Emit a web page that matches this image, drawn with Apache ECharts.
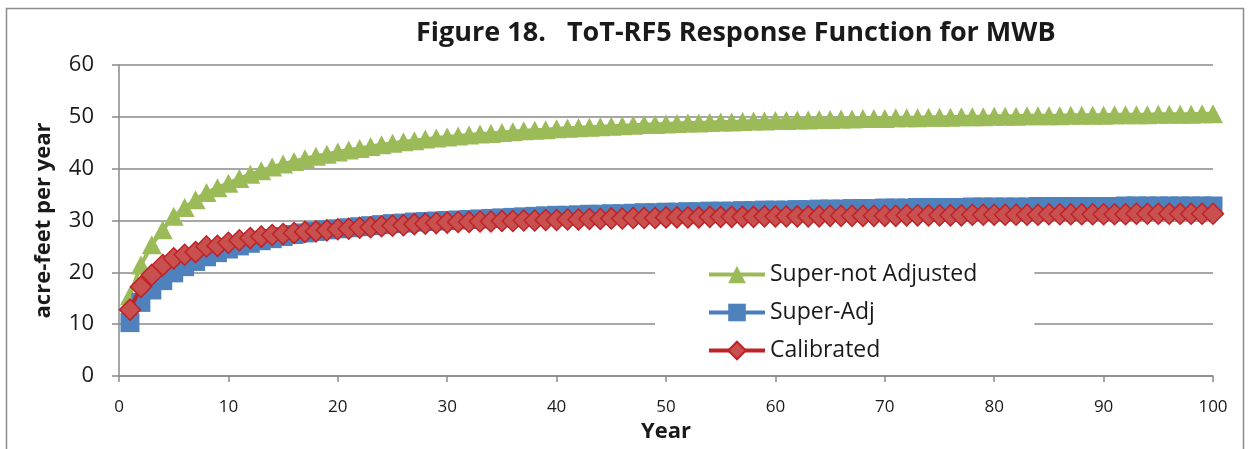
<!DOCTYPE html>
<html>
<head>
<meta charset="utf-8">
<script src="https://cdn.jsdelivr.net/npm/echarts@6/dist/echarts.min.js"></script>
<style>
  html, body { margin: 0; padding: 0; background: #fff; overflow: hidden; }
  #chart { width: 1250px; height: 449px; }
</style>
</head>
<body>
<div id="chart"></div>
<script>
// Response function, acre-feet per year, for years 1..100
const years = Array.from({ length: 100 }, (_, i) => i + 1);

const superNotAdjusted = [
  15.5, 21.4, 25.3, 28.2, 30.8, 32.5, 34.0, 35.4, 36.3, 37.2,
  38.1, 38.9, 39.6, 40.3, 40.9, 41.4, 41.9, 42.4, 42.8, 43.2,
  43.6, 43.9, 44.3, 44.6, 44.9, 45.2, 45.4, 45.7, 45.9, 46.1,
  46.3, 46.5, 46.7, 46.8, 47.0, 47.1, 47.3, 47.4, 47.5, 47.7,
  47.8, 47.9, 48.0, 48.1, 48.2, 48.3, 48.4, 48.5, 48.5, 48.6,
  48.7, 48.8, 48.8, 48.9, 49.0, 49.0, 49.1, 49.2, 49.2, 49.3,
  49.3, 49.4, 49.4, 49.5, 49.5, 49.6, 49.6, 49.7, 49.7, 49.7,
  49.8, 49.8, 49.8, 49.9, 49.9, 49.9, 50.0, 50.0, 50.0, 50.1,
  50.1, 50.1, 50.2, 50.2, 50.2, 50.2, 50.3, 50.3, 50.3, 50.3,
  50.4, 50.4, 50.4, 50.4, 50.5, 50.5, 50.5, 50.5, 50.6, 50.6
];

const superAdj = [
  10.3, 14.2, 16.6, 18.4, 19.9, 21.1, 22.1, 23.0, 23.8, 24.5,
  25.1, 25.6, 26.1, 26.5, 26.9, 27.3, 27.6, 27.9, 28.2, 28.4,
  28.6, 28.8, 29.0, 29.2, 29.4, 29.5, 29.7, 29.8, 29.9, 30.0,
  30.1, 30.2, 30.3, 30.4, 30.5, 30.6, 30.7, 30.8, 30.9, 31.0,
  31.0, 31.1, 31.2, 31.2, 31.3, 31.3, 31.4, 31.5, 31.5, 31.6,
  31.6, 31.7, 31.7, 31.8, 31.8, 31.8, 31.9, 31.9, 32.0, 32.0,
  32.0, 32.1, 32.1, 32.2, 32.2, 32.2, 32.3, 32.3, 32.3, 32.4,
  32.4, 32.4, 32.5, 32.5, 32.5, 32.5, 32.5, 32.6, 32.6, 32.6,
  32.6, 32.6, 32.6, 32.7, 32.7, 32.7, 32.7, 32.7, 32.7, 32.7,
  32.7, 32.8, 32.8, 32.8, 32.8, 32.8, 32.8, 32.8, 32.8, 32.8
];

const calibrated = [
  12.8, 17.2, 19.5, 21.4, 22.7, 23.4, 23.9, 25.0, 25.1, 25.7,
  26.2, 26.6, 26.9, 27.2, 27.4, 27.6, 27.8, 27.9, 28.1, 28.3,
  28.4, 28.6, 28.7, 28.9, 29.0, 29.1, 29.3, 29.4, 29.5, 29.6,
  29.7, 29.7, 29.8, 29.8, 29.9, 29.9, 30.0, 30.0, 30.1, 30.1,
  30.2, 30.2, 30.3, 30.3, 30.4, 30.4, 30.5, 30.5, 30.5, 30.6,
  30.6, 30.6, 30.6, 30.7, 30.7, 30.7, 30.7, 30.7, 30.8, 30.8,
  30.8, 30.8, 30.8, 30.8, 30.9, 30.9, 30.9, 30.9, 30.9, 30.9,
  30.9, 31.0, 31.0, 31.0, 31.0, 31.0, 31.0, 31.1, 31.1, 31.1,
  31.1, 31.1, 31.1, 31.1, 31.2, 31.2, 31.2, 31.2, 31.2, 31.2,
  31.2, 31.2, 31.3, 31.3, 31.3, 31.3, 31.3, 31.3, 31.3, 31.3
];

const seriesNames = ['Super-not Adjusted', 'Super-Adj', 'Calibrated'];

const pairs = vals => years.map((y, i) => [y, vals[i]]);

const FONT = '"Open Sans", "Noto Sans", sans-serif';
const GRID_GRAY = '#8a8a8a';
const INK = '#1a1a1a';

const chart = echarts.init(document.getElementById('chart'), null, { renderer: 'canvas' });

chart.setOption({
  animation: false,
  backgroundColor: '#fff',
  textStyle: { fontFamily: FONT },
  title: {
    text: 'Figure 18.   ToT-RF5 Response Function for MWB',
    left: 411,
    top: 15,
    textStyle: { fontFamily: FONT, fontSize: 27, fontWeight: 'bold', color: INK }
  },
  graphic: [{
    type: 'rect',
    shape: { x: 6.5, y: 8.5, width: 1237, height: 470 },
    style: { fill: 'none', stroke: '#8c8c8c', lineWidth: 1.5 },
    silent: true,
    z: -10
  }],
  grid: {
    left: 119, right: 37, top: 65, bottom: 73,
    containLabel: false,
    outerBoundsMode: 'none'
  },
  legend: {
    orient: 'vertical',
    left: 655,
    top: 254,
    padding: [9, 57, 7, 52],
    backgroundColor: '#fff',
    itemWidth: 56,
    itemHeight: 22,
    itemGap: 15,
    data: seriesNames,
    lineStyle: { width: 4 },
    textStyle: { fontFamily: FONT, fontSize: 23, color: INK }
  },
  xAxis: {
    type: 'value',
    min: 0,
    max: 100,
    interval: 10,
    name: 'Year',
    nameLocation: 'middle',
    nameGap: 45,
    nameTextStyle: { fontFamily: FONT, fontSize: 22, fontWeight: 'bold', color: INK },
    axisLine: { lineStyle: { color: GRID_GRAY, width: 1.5 } },
    axisTick: { show: true, inside: false, length: 6, lineStyle: { color: GRID_GRAY, width: 1.5 } },
    axisLabel: { margin: 23, fontSize: 17, color: INK, fontFamily: FONT },
    splitLine: { show: false }
  },
  yAxis: {
    type: 'value',
    min: 0,
    max: 60,
    interval: 10,
    name: 'acre-feet per year',
    nameLocation: 'middle',
    nameGap: 64,
    nameTextStyle: { fontFamily: FONT, fontSize: 22, fontWeight: 'bold', color: INK },
    axisLine: { show: true, lineStyle: { color: GRID_GRAY, width: 1.5 } },
    axisTick: { show: true, inside: false, length: 7, lineStyle: { color: GRID_GRAY, width: 1.5 } },
    axisLabel: { margin: 25, fontSize: 22, color: INK, fontFamily: FONT },
    splitLine: { show: true, lineStyle: { color: GRID_GRAY, width: 1.5 } }
  },
  series: [
    {
      name: seriesNames[0],
      type: 'line',
      data: pairs(superNotAdjusted),
      symbol: 'triangle',
      symbolSize: [20, 19],
      lineStyle: { color: '#9BBB59', width: 4 },
      itemStyle: { color: '#9BBB59' },
      z: 2
    },
    {
      name: seriesNames[1],
      type: 'line',
      data: pairs(superAdj),
      symbol: 'rect',
      symbolSize: 19,
      lineStyle: { color: '#4A7EBB', width: 4 },
      itemStyle: { color: '#4F81BD' },
      z: 3
    },
    {
      name: seriesNames[2],
      type: 'line',
      data: pairs(calibrated),
      symbol: 'diamond',
      symbolSize: 21,
      lineStyle: { color: '#BE2329', width: 4 },
      itemStyle: { color: '#C8504F', borderColor: '#BE2329', borderWidth: 1.5 },
      z: 4
    }
  ]
});
</script>
</body>
</html>
